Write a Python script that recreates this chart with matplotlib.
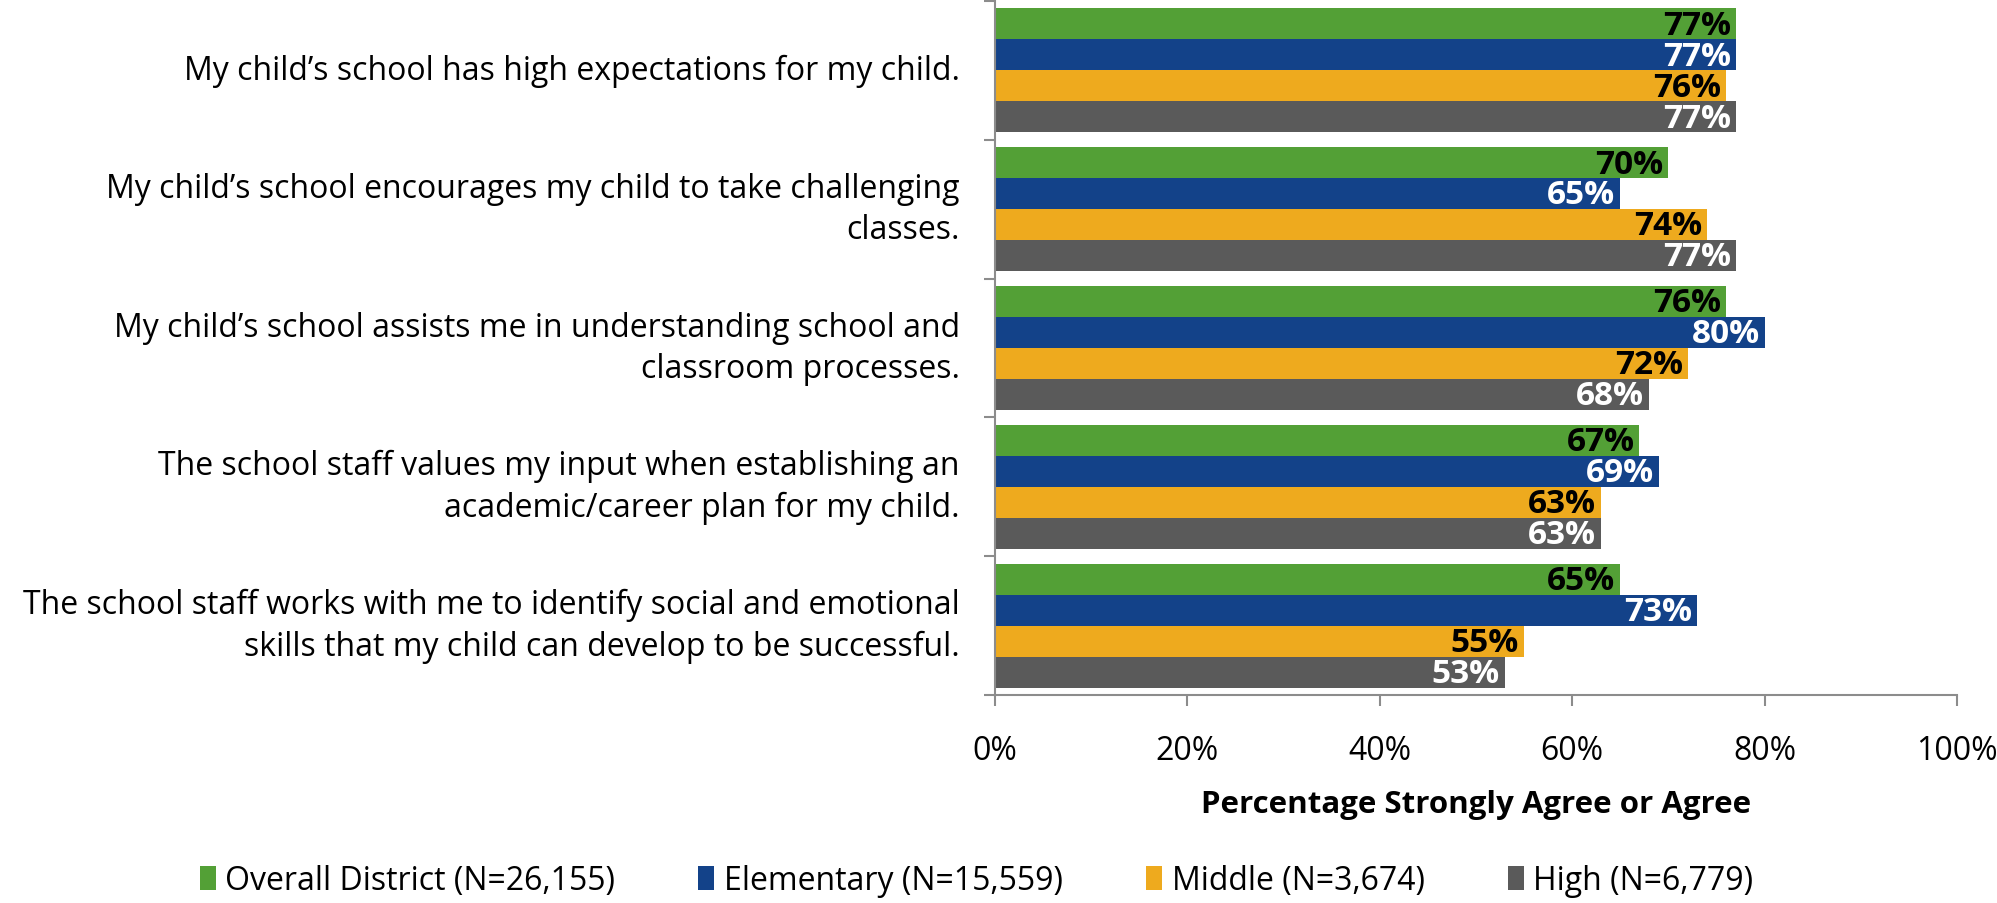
import matplotlib
matplotlib.use('Agg')
import matplotlib.pyplot as plt
import matplotlib.patches as mpatches
import numpy as np

# --- Data ---
questions = [
    'My child\u2019s school has high expectations for my child.',
    'My child\u2019s school encourages my child to take challenging\nclasses.',
    'My child\u2019s school assists me in understanding school and\nclassroom processes.',
    'The school staff values my input when establishing an\nacademic/career plan for my child.',
    'The school staff works with me to identify social and emotional\nskills that my child can develop to be successful.',
]
series_names = ['Overall District (N=26,155)', 'Elementary (N=15,559)',
                'Middle (N=3,674)', 'High (N=6,779)']
overall = [77, 70, 76, 67, 65]
elementary = [77, 65, 80, 69, 73]
middle = [76, 74, 72, 63, 55]
high = [77, 77, 68, 63, 53]

colors = ['#53a036', '#134289', '#eeaa1e', '#5a5a5a']
label_colors = ['black', 'white', 'black', 'white']
axis_gray = '#8c8c8c'
font = ['Open Sans', 'DejaVu Sans']

plt.rcParams['font.family'] = font

fig = plt.figure(figsize=(19.97, 9.04), dpi=100)
ax = fig.add_axes([0.498, 0.230, 0.482, 0.768])

n = len(questions)
centers = np.arange(n)[::-1].astype(float)
bar_h = 0.223
offsets = [1.5, 0.5, -0.5, -1.5]

for values, name, col, lcol, off in zip([overall, elementary, middle, high],
                                        series_names, colors, label_colors, offsets):
    bars = ax.barh(centers + off * bar_h, values, height=bar_h, color=col, label=name)
    for b, v in zip(bars, values):
        ax.text(b.get_width() - 0.5, b.get_y() + b.get_height() / 2 - 0.01, f'{v}%',
                ha='right', va='center', fontsize=24, fontweight='bold', color=lcol)

ax.set_xlim(0, 100)
ax.set_ylim(-0.5, n - 0.5)
ax.set_xticks(np.arange(0, 101, 20))
ax.set_xticklabels([f'{t}%' for t in range(0, 101, 20)], fontsize=23)
ax.tick_params(axis='x', length=8, width=1.5, color=axis_gray, pad=20)
ax.set_yticks(np.arange(-0.5, n, 1.0))
ax.set_yticklabels([])
ax.tick_params(axis='y', length=8, width=1.5, color=axis_gray)
for yc, q in zip(centers, questions):
    ax.text(-0.036, yc, q, transform=ax.get_yaxis_transform(), ha='right', va='center',
            fontsize=23, linespacing=1.35)

for s in ['top', 'right']:
    ax.spines[s].set_visible(False)
for s in ['left', 'bottom']:
    ax.spines[s].set_color(axis_gray)
    ax.spines[s].set_linewidth(1.5)

ax.set_xlabel('Percentage Strongly Agree or Agree', fontsize=22.5, fontweight='bold', labelpad=16)

handles = [mpatches.Patch(facecolor=c) for c in colors]
fig.legend(handles, series_names, loc='center', bbox_to_anchor=(0.489, 0.025), ncol=4,
           frameon=False, fontsize=23, handlelength=0.5, handleheight=0.8,
           handletextpad=0.3, columnspacing=2.6)

fig.savefig('out.png', dpi=100, facecolor='white')
